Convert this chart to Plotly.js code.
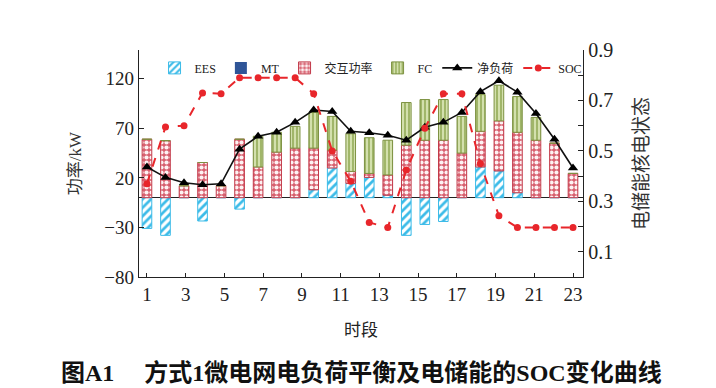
<!DOCTYPE html>
<html>
<head>
<meta charset="utf-8">
<script src="https://cdn.plot.ly/plotly-3.0.1.min.js"></script>
<style>html,body{margin:0;padding:0;background:#fff;}#chart{width:716px;height:388px;}</style>
</head>
<body>
<div id="chart"></div>
<script>
const hours = [1,2,3,4,5,6,7,8,9,10,11,12,13,14,15,16,17,18,19,20,21,22,23,24];
const ees   = [-31,-38,0,-23.5,0,-11.5,0,0,0,8,30,14.5,20.5,2.5,-38,-27,-24,0,31,27,5,0,0,0];
const mt    = [0,0,0,0,0,0,0,0,0,0,0,0,0,0,0,0,0,0,0,0,0,0,0,0];
const grid  = [59,57.5,12,35.5,12,59,31,46,50,42,18,12,4,20.5,53,58,58,45,36,50.5,61,58,55,24.5];
const fc    = [0,0,0,0,0,0,31,20,22,36,34,38,36,35,43,41,41,37,37,36,36,23,0,0];
const netLoad = [31,20.5,15,13,14,49,62,66,76,88.5,87,67,65.5,63,58,71,76,86,107,118,106.5,85,59,30];
const soc   = [0.37,0.595,0.60,0.73,0.727,0.79,0.79,0.79,0.79,0.727,0.50,0.38,0.216,0.196,0.424,0.59,0.727,0.727,0.45,0.243,0.196,0.196,0.196,0.196];
const xTickLabels = ['1','3','5','7','9','11','13','15','17','19','21','23'];
const leftTicks = [-80,-30,20,70,120];
const rightTicks = [0.1,0.2,0.3,0.4,0.5,0.6,0.7,0.8,0.9];
const rightTickText = ['0.1','','0.3','','0.5','','0.7','','0.9'];

const serif = 'Liberation Serif, Times New Roman, Noto Sans CJK SC, serif';
const cjk = 'Liberation Serif, Noto Sans CJK SC, serif';

const traces = [
  {type:'bar', name:'EES', x:hours, y:ees, width:0.52,
   marker:{color:'#ffffff', line:{color:'#3bbbe8', width:1},
     pattern:{shape:'/', fgcolor:'#3bbbe8', bgcolor:'#ffffff', size:6, solidity:0.45}}},
  {type:'bar', name:'MT', x:hours, y:mt, width:0.52,
   marker:{color:'#2f5597', line:{color:'#2f5597', width:0}}},
  {type:'bar', name:'交互功率', x:hours, y:grid, width:0.52,
   marker:{color:'#d46a78', line:{color:'#c23848', width:1},
     pattern:{shape:'.', fgcolor:'#fdf2f3', bgcolor:'#d8606f', size:5, solidity:0.55}}},
  {type:'bar', name:'FC', x:hours, y:fc, width:0.52,
   marker:{color:'#c3d39a', line:{color:'#7c9140', width:1},
     pattern:{shape:'|', fgcolor:'#7f9a3c', bgcolor:'#d3e0ad', size:4, solidity:0.3}}},
  {type:'scatter', mode:'lines+markers', name:'净负荷', x:hours, y:netLoad,
   line:{color:'#111111', width:1.6},
   marker:{symbol:'triangle-up', size:9, color:'#000000'}},
  {type:'scatter', mode:'lines+markers', name:'SOC', x:hours, y:soc, yaxis:'y2',
   line:{color:'#e8262b', width:2, dash:'dash'},
   marker:{symbol:'circle', size:7, color:'#e8262b'}}
];

const tickPos = xTickLabels.map((t,i)=> 1 + i*2*23/22);

const layout = {
  width:716, height:388,
  margin:{l:139, r:133, t:50, b:111},
  paper_bgcolor:'#ffffff', plot_bgcolor:'#ffffff',
  barmode:'relative', bargap:0.4,
  showlegend:true,
  legend:{orientation:'h', x:0.035, xanchor:'left', y:0.985, yanchor:'top',
    bgcolor:'rgba(0,0,0,0)', font:{family:cjk, size:12, color:'#222'},
    itemwidth:30, tracegroupgap:0},
  xaxis:{range:[0.57,24.54], tickmode:'array', tickvals:tickPos, ticktext:xTickLabels,
    showline:true, linecolor:'#222', linewidth:1.2, ticks:'inside', ticklen:4, tickcolor:'#222',
    showgrid:false, zeroline:false, tickfont:{family:serif, size:19, color:'#222'},
    title:{text:'时段', font:{family:cjk, size:17, color:'#222'}, standoff:20}},
  yaxis:{range:[-80,149], tickmode:'array', tickvals:leftTicks,
    showline:true, linecolor:'#222', linewidth:1.2, ticks:'inside', ticklen:5, tickcolor:'#222',
    showgrid:false, zeroline:true, zerolinecolor:'#222', zerolinewidth:1.2,
    tickfont:{family:serif, size:19, color:'#222'},
    title:{text:'功率/kW', font:{family:cjk, size:17, color:'#333'}, standoff:18}},
  yaxis2:{overlaying:'y', side:'right', range:[0,0.9], tickmode:'array', tickvals:rightTicks, ticktext:rightTickText,
    showline:true, linecolor:'#222', linewidth:1.2, ticks:'inside', ticklen:5, tickcolor:'#222',
    showgrid:false, zeroline:false, tickfont:{family:serif, size:20, color:'#222'},
    title:{text:'电储能核电状态', font:{family:cjk, size:19, color:'#333'}, standoff:22}},
  annotations:[
    {text:'<b>图A1　 方式1微电网电负荷平衡及电储能的SOC变化曲线</b>', xref:'paper', yref:'paper',
     x:0.5, y:-0.42, xanchor:'center', yanchor:'middle', showarrow:false,
     font:{family:cjk, size:24, color:'#111'}}
  ]
};

Plotly.newPlot('chart', traces, layout, {displayModeBar:false, staticPlot:true});
</script>
</body>
</html>
